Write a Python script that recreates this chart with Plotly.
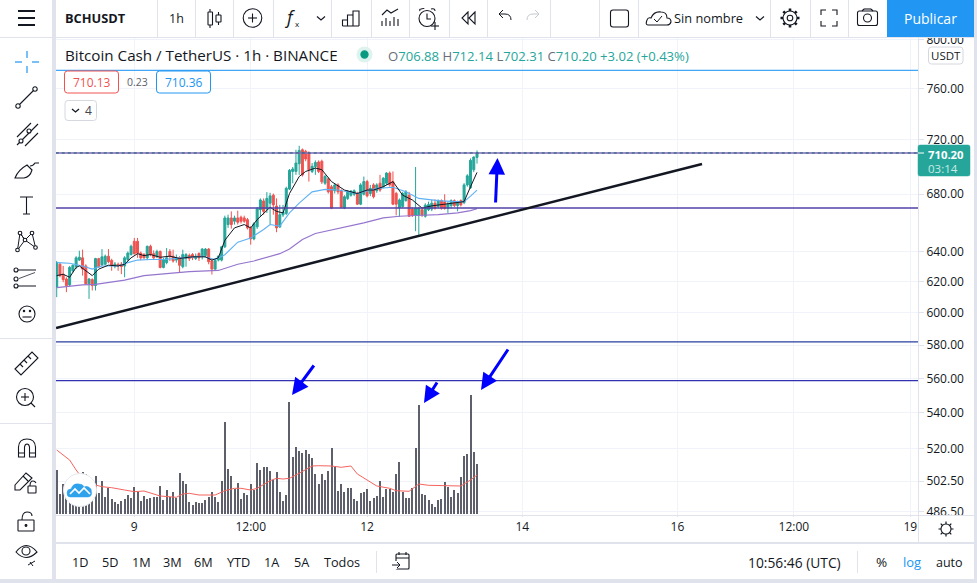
import math
import plotly.graph_objects as go

# Hourly BCH/USDT bars
opens = [616.6,631.6,625,621.9,618,627.3,630.1,634.4,635.9,630.5,
618.7,621.5,617.6,635.4,631.2,631.6,637,634.2,630.5,631.6,
631.6,630.5,634.8,638.1,647.1,647.1,639.1,638.1,635.9,643.7,
638.7,636.6,640.2,629.5,632.7,640.2,637,634.4,635.9,630,
635.4,637.5,638.1,635.5,638.8,636.6,637.4,641.8,633.8,628.4,
634.4,634.4,643.3,658.6,663.2,660.9,663.2,663.7,663.2,662,
656.3,648.7,657,669,675.2,669.4,673.6,679.3,671.6,656.9,
665.3,666.4,683.7,696.5,696.5,702.2,712.6,711.4,710.1,696.5,
700,703.5,704,687.9,691.1,685.4,682.5,686.7,682.5,670.1,
677,679.3,680,680.5,672.9,680,689.1,680.5,686.7,682.5,
687.9,685.4,687.9,695.3,689.1,680.5,670.3,671.3,675.4,679.3,
669.4,664.9,664.9,669,664.4,669,669.4,673.6,671.3,675.4,
674.7,670.1,671.9,675.4,671.9,675.4,674,686.7,684.7,697.8,706.88]
closes = [632.7,624.1,621.5,617.6,629.5,630.9,635.9,636.3,628.4,618.7,
621.9,617.6,635.4,630,636.6,637,633.3,631,631.8,630.5,
630.1,635.9,639.1,643.7,638.7,639.1,635.9,635.9,643.7,638.1,
635.9,640.2,629.5,634.8,635.9,637,633.8,635.9,630.9,638.1,
638.1,635.4,635.9,637,635.9,641.8,641.8,633.3,628.4,634.2,
637,643.3,663.2,663.2,658.6,663.2,660.2,660.9,660.9,656.3,
648.7,659.1,669.7,675.9,667.8,677,678.8,672.4,656.3,665.5,
667.1,684.2,697.3,698.3,702.7,712.1,694,705.7,697.8,700.3,
703.2,696.5,688.9,692.8,681.7,670.1,686.7,681.7,670.8,678.2,
681.7,682.2,682.5,672.9,686.7,689.1,678.8,684.2,678.2,686.7,
683,691.6,695.3,686.7,672.9,672.9,675.9,680.5,681.7,664.4,
664.9,670.1,670.1,665.3,672.2,672.6,673.6,670.1,675.4,670.1,
669.9,673.1,675.4,671.9,674,672.4,686.7,693.3,704.7,707.18,710.20]
highs = [633.8,632.7,630.5,623,630.5,631.6,637,640.7,641.4,631.6,
622.5,622.3,635.9,635.9,641.8,638.1,641.8,635.3,633.1,632.7,
633.1,637,640.2,644.8,649.4,649.4,640.2,639.1,644.1,644.8,
640.9,641.4,640.9,635.9,642.5,641.8,641.4,638.1,637,641.4,
639.1,638.8,639.1,638.8,639.6,642.5,642.5,642.5,634.8,635.3,
637.4,643.7,664.8,665.5,667.8,664.8,668.3,664.8,664.8,663.2,
657.5,660.2,670.8,677,677,681.5,681,680.5,677,672.4,
672.4,685.4,698.3,699.8,712.6,715.6,713.6,712.6,711.4,702.7,
704.7,704.7,705.2,694,692.1,686.7,687.9,687.9,683.5,679.3,
683,683,683.5,681.7,687.9,692.8,690.4,686.7,687.9,687.9,
694,692.3,696,696.5,696.5,681.7,677,681.7,683,681.7,
670.8,699.8,671,670.8,673.6,674.7,675.9,676.3,676.3,676.3,
680,674.7,676.3,676.3,675.4,676.3,688,694.5,706.2,707.7,712.14]
lows = [610.1,623,619.8,613.3,617,626.2,628.4,633.8,624.1,618,
609,614.4,614.4,629.2,630.3,631,632.3,627.3,628.9,627.3,
625.1,623,633.8,637.4,638.1,635.9,634.4,635.3,634.4,637,
634.8,635.7,628.9,628.9,631.6,633.8,632.7,632.7,625.8,628.9,
630,633.8,634.4,634.4,633.8,634.8,635.9,631.6,624.8,627.7,
633.5,633.5,642.5,656.3,655.8,658.6,658.6,659.3,659.8,655.2,
644.8,647.8,655.6,663.9,665.5,666.7,658.6,665.5,653.3,656.3,
663.9,665.3,683,687.9,694,694,692.8,704,689.1,695.3,
694,695.3,687.4,686.7,680.5,669.4,680.5,680,669.9,669.4,
675.9,678.2,678.6,672.4,672.2,679.1,677.7,678.6,677,681,
681.7,684.2,686.7,685.4,672.2,665,663.9,670.3,674.7,663.9,
663.9,654,651.5,663.9,663.4,668,668,669,669.9,669,
669,666.7,669.9,670.8,667.8,671.3,672.9,685.4,683.7,696,702.31]
volumes = [4400,2000,3000,3100,2400,1200,1800,3500,4200,4000,
3700,3100,3800,2100,3300,1700,2600,1500,1200,1000,
1300,1500,1900,1600,2700,2200,1300,1800,1500,1600,
1700,1700,2800,1400,2400,1700,2200,1600,4100,3300,
3000,1200,900,1200,1100,1100,1400,1700,2200,1700,
1200,3300,9200,4500,3800,2500,3100,1500,2100,1900,
3000,2400,5100,4400,4700,4700,4300,3400,4200,2200,
1300,1900,11200,5700,6700,6300,6100,6400,6000,5600,
4000,3000,4000,3400,4300,6600,4700,2300,3000,2200,
2600,2600,1500,1300,2100,2200,2500,1300,1600,1800,
3300,1700,2500,2500,2200,4000,5200,2200,1600,1600,
2600,6600,10900,2000,1900,1400,1000,700,1400,1500,
3200,2700,1700,2400,2100,3700,5800,6000,11900,6200,5000]
bar_index = list(range(len(closes)))

# Moving averages, read at the bends of each line
ma_fast_x = [0,2,4,6,7,9,11,13,16,19,21,23,25,27,29,32,35,38,42,46,48,50,52,55,58,60,62,66,68,70,72,75,77,80,82,85,89,93,96,98,101,104,107,110,113,116,120,126,128,130]
ma_fast_y = [624.1,625,623,629.5,630.5,627.3,624.1,628.4,631,630.5,631.6,635.9,638.7,637.4,638.1,636.3,637,635.5,636.6,636.6,634.4,635.9,647.8,656.3,658.6,656.3,662,670.7,667.8,666.7,680.5,692.8,696.5,699,697.8,689.1,683,680.5,683,683,685.4,689.1,679.3,675.9,670.1,671.7,673.1,674.7,685.4,695.8]
ma_mid_x = [0,4,8,11,14,19,22,25,29,33,39,45,49,52,56,60,64,66,69,72,75,79,83,87,93,99,104,108,112,118,123,126,128,130]
ma_mid_y = [632.7,632.3,630.5,628.4,630.5,630.5,632.7,634.4,634.8,634.8,635.9,637,634.8,638,646.5,649.4,655.2,658.6,657.5,666.7,673.6,681.7,683.5,683,680.5,684.2,685,681.7,677,675.4,674.7,674.7,678.6,683]
ma_slow_x = [0,8,12,21,27,34,41,50,56,61,69,72,76,80,87,95,101,106,111,118,124,128,130]
ma_slow_y = [616.2,618,618.4,621.1,624.1,625.2,626.7,627.5,631.6,633.8,638.7,641.8,648.3,652.4,655.6,659.8,663.2,664.4,664.9,665.5,666.7,668.3,669.7]
vol_ma_x = [0,2,4,6,8,10,12,14,17,21,24,27,29,32,37,39,41,44,49,52,55,57,60,62,66,68,70,72,75,79,81,85,88,91,93,99,103,105,109,112,115,120,125,128,130]
vol_ma_y = [6400,5900,5400,4400,3570,3330,2900,2730,2630,2400,2230,2300,2070,1800,1670,2000,2070,1900,1900,2330,2570,2570,2400,2570,3330,3570,3500,3570,4070,4800,4830,4800,4670,4800,4000,2800,2570,2330,2270,3000,2870,2830,2800,3400,3900]

# Drawn levels and the trend line
level_last = 710.20
level_blue = 774.8
level_mid = 670.2
level_low1 = 582.0
level_low2 = 558.7
trend_x = [-0.2, 199.6]
trend_y = [590.6, 702.0]

price_ticks = [800, 760, 720, 680, 640, 620, 600, 580, 560, 540, 520, 502.5, 486.5]
time_ticks = [24, 60, 96, 144, 192, 228, 264]
time_labels = ["9", "12:00", "12", "14", "16", "12:00", "19"]

FONT = "Open Sans"
INK = "#131722"
EDGE = "#e0e3eb"
GRID = "#f0f3fa"
UP = "#26a69a"
DOWN = "#ef5350"
BLUE = "#2196f3"

W, H = 977, 583
shapes = []
notes = []


def stroke(d, color=INK, w=1.1, fill=None):
    s = dict(type="path", path=d, xref="x3", yref="y3", layer="above", line=dict(color=color, width=w))
    if fill:
        s["fillcolor"] = fill
    shapes.append(s)


def seg(x0, y0, x1, y1, color=INK, w=1.1):
    shapes.append(dict(type="line", x0=x0, y0=y0, x1=x1, y1=y1, xref="x3", yref="y3", layer="above",
                       line=dict(color=color, width=w)))


def block(x0, y0, x1, y1, fill):
    shapes.append(dict(type="rect", x0=x0, y0=y0, x1=x1, y1=y1, xref="x3", yref="y3", layer="above",
                       fillcolor=fill, line=dict(width=0)))


def ring(cx, cy, r, color=INK, w=1.1, fill="rgba(0,0,0,0)"):
    shapes.append(dict(type="circle", x0=cx-r, y0=cy-r, x1=cx+r, y1=cy+r, xref="x3", yref="y3", layer="above",
                       line=dict(color=color, width=w), fillcolor=fill))


def rbox(x0, y0, x1, y1, r, color=INK, w=1.1, fill=None):
    d = (f"M{x0+r},{y0} L{x1-r},{y0} Q{x1},{y0} {x1},{y0+r} L{x1},{y1-r} Q{x1},{y1} {x1-r},{y1} "
         f"L{x0+r},{y1} Q{x0},{y1} {x0},{y1-r} L{x0},{y0+r} Q{x0},{y0} {x0+r},{y0} Z")
    stroke(d, color, w, fill)


def label(x, y, s, size=12, color=INK, anchor="left"):
    notes.append(dict(x=x, y=y, text=s, xref="x3", yref="y3", showarrow=False, xanchor=anchor, yanchor="middle",
                      font=dict(family=FONT, size=size, color=color), borderpad=0))


def blue_arrow(x0, y0, x1, y1):
    notes.append(dict(x=x1, y=y1, ax=x0, ay=y0, xref="x3", yref="y3", axref="x3", ayref="y3", text="",
                      showarrow=True, arrowhead=2, arrowsize=1.1, arrowwidth=3, arrowcolor="#0000ff"))


fig = go.Figure()
fig.add_trace(go.Bar(x=bar_index, y=volumes, yaxis="y2", width=0.62, marker=dict(color="#5d606b", line=dict(width=0))))
fig.add_trace(go.Scatter(x=vol_ma_x, y=vol_ma_y, yaxis="y2", mode="lines", line=dict(color="#f4645f", width=1)))
fig.add_trace(go.Candlestick(x=bar_index, open=opens, high=highs, low=lows, close=closes,
                             increasing=dict(line=dict(color=UP, width=1), fillcolor=UP),
                             decreasing=dict(line=dict(color=DOWN, width=1), fillcolor=DOWN),
                             whiskerwidth=0))
fig.add_trace(go.Scatter(x=ma_slow_x, y=ma_slow_y, mode="lines", line=dict(color="#9575cd", width=1.2)))
fig.add_trace(go.Scatter(x=ma_mid_x, y=ma_mid_y, mode="lines", line=dict(color="#5eb1f3", width=1.1)))
fig.add_trace(go.Scatter(x=ma_fast_x, y=ma_fast_y, mode="lines", line=dict(color=INK, width=1)))

x_end = [-0.3, 266.6]
for lvl, col, wid, dash in [(level_blue, "#42a5f5", 1.3, "solid"), (level_last, "#7e6bb8", 1.5, "solid"),
                            (level_last, "#1f5f7a", 1, "dot"), (level_mid, "#4f42a6", 1.4, "solid"),
                            (level_low1, "#2a3f9e", 1.2, "solid"), (level_low2, "#3232b0", 1.2, "solid")]:
    fig.add_trace(go.Scatter(x=x_end, y=[lvl, lvl], mode="lines", line=dict(color=col, width=wid, dash=dash)))
fig.add_trace(go.Scatter(x=trend_x, y=trend_y, mode="lines", line=dict(color=INK, width=2.6)))
fig.add_trace(go.Scatter(x=[0], y=[0], xaxis="x3", yaxis="y3", mode="markers", marker=dict(opacity=0), hoverinfo="skip"))

# Arrows drawn on the chart
blue_arrow(495.5, 204, 497.5, 158)
blue_arrow(315, 364, 292, 395)
blue_arrow(438, 381, 424, 403)
blue_arrow(509, 348, 481, 390)

# Window chrome
block(0, 0, W, 37, "#ffffff")
block(52, 0, 56, H, EDGE)
block(56, 37, W, 38, EDGE)
block(0, 37, 52, 38, EDGE)
block(974, 0, W, H, EDGE)
block(0, 579, W, H, EDGE)
block(56, 515, 974, 516, EDGE)
block(56, 542, 974, 544, EDGE)
block(918, 38, 919, 543, EDGE)
block(0, 338, 52, 339, EDGE)
block(0, 423, 52, 424, EDGE)
for sx in [157, 195, 233, 273, 331, 371, 409, 449, 487, 550, 599, 638, 770, 810, 848]:
    block(sx, 0, sx+1, 37, EDGE)
block(887, 0, 974, 37, BLUE)
block(376, 551, 377, 573, EDGE)
block(857, 551, 858, 573, EDGE)

# Top toolbar
for hy in [11, 18, 25]:
    seg(18, hy, 35, hy, w=2)
label(64, 18, "<b>BCHUSDT</b>", 12.8)
label(176, 18, "1h", 12.5, anchor="center")
seg(210, 9, 210, 28)
rbox(208, 12, 212.5, 25, 0.5, fill="#ffffff")
seg(218.5, 12, 218.5, 25)
rbox(216, 15, 221, 22, 0.5, fill="#ffffff")
ring(252.5, 18, 9.3)
seg(248, 18, 257, 18)
seg(252.5, 13.5, 252.5, 22.5)
label(289, 17, "<i>f</i>", 18, anchor="center")
label(297, 23, "x", 8, anchor="center")
stroke("M317,16.5 L321,20 L325,16.5")
stroke("M342.5,26 L342.5,20 L347.5,20 L347.5,26 M347.5,26 L347.5,15 L353,15 L353,26 M353,26 L353,11 L359,11 L359,26 M342.5,26 L359,26")
stroke("M382,15 L387,10 L391,13 L398,9")
for tx, ty in [(382, 21), (386, 18), (390, 21), (394, 17), (398, 19)]:
    seg(tx, ty, tx, 26)
ring(427, 18.5, 8)
stroke("M427,13.5 L427,19 L431,19")
stroke("M420,11 Q419,9 421,9 Q424,8 424,9 M431,9 Q435,8 435,11")
seg(431, 26, 439, 26)
seg(435, 22, 435, 30)
stroke("M468,12 L462,18 L468,24 Z M475,12 L469,18 L475,24 Z")
stroke("M499,14 L505,14 Q511,14 511,20 M499,14 L503,10 M499,14 L503,18", w=1)
stroke("M539,14 L533,14 Q527,14 527,20 M539,14 L535,10 M539,14 L535,18", color="#c5c8d0", w=1)
rbox(610.5, 10, 628.5, 27, 2.5)
stroke("M648,25 Q645,25 647,20 Q648,17 651,18 Q654,11 661,12 Q667,12 667,18 Q671,18 671,22 Q670,25 667,25 Z")
stroke("M654,19 L657,22 L662,16", w=1)
label(672.5, 18, "Sin nombre", 12.8)
stroke("M756,16.5 L760,20 L764,16.5")
# gear teeth
teeth = []
for k in range(8):
    a = k * math.pi / 4
    teeth.append(f"M{790+6.5*math.cos(a):.1f},{18+6.5*math.sin(a):.1f} L{790+9.5*math.cos(a):.1f},{18+9.5*math.sin(a):.1f}")
stroke(" ".join(teeth), w=2.6)
ring(790, 18, 7, fill="#ffffff")
ring(790, 18, 2.8)
stroke("M821,15 L821,10 L826,10 M832,10 L837,10 L837,15 M837,21 L837,26 L832,26 M826,26 L821,26 L821,21")
rbox(857.5, 11, 877.5, 25.5, 2)
ring(867.5, 18, 4)
seg(862, 11, 864, 9)
seg(864, 9, 871, 9)
seg(871, 9, 873, 11)
label(930.5, 18, "Publicar", 14, "#ffffff", "center")

# Left toolbar
for a, b, c, d in [(27, 51, 27, 58), (27, 66, 27, 73), (15, 62, 22, 62), (32, 62, 39, 62)]:
    seg(a, b, c, d, BLUE, 1.2)
seg(18, 106, 35, 89)
ring(18, 106, 2.2, fill="#ffffff")
ring(35, 89, 2.2, fill="#ffffff")
stroke("M17,137 L31,123 M17,145 L38,124 M25,146 L38,133")
ring(21, 141, 2, fill="#ffffff")
ring(29, 131, 2, fill="#ffffff")
stroke("M15,178 Q18,170 27,165 L32,170 Q30,177 24,178 Z M30,166 Q33,166 35,163 L39,163", w=1.1)
stroke("M20,197 L33,197 M26.5,197 L26.5,214 M23,214 L30,214")
stroke("M17.5,250 L20,233 L25,240 L32,233 L35.5,247.5 L25,240 L17.5,250 M20,233 L25,240 M25,240 L32,233", w=1)
for px_, py_ in [(17.5, 250), (20, 233), (25, 240), (32, 233), (35.5, 247.5)]:
    ring(px_, py_, 1.8, fill="#ffffff")
stroke("M18,270 L36,270 M18,286 L36,286", w=1.1)
stroke("M19,278.5 L35,272.5", color="#50535e", w=1)
for py_ in [270, 279, 286]:
    ring(16, py_, 2, fill="#ffffff")
ring(27, 314, 8)
seg(22.5, 317, 31.5, 317, w=1.1)
ring(24, 311, 0.7, fill=INK)
ring(30, 311, 0.7, fill=INK)
stroke("M15,369 L32,352 L38,358 L21,375 Z M20,364 L23,367 M24,360 L27,363 M28,356 L31,359", w=1.1)
ring(25, 397, 8.5)
seg(31, 403, 35, 407)
seg(21, 397, 29, 397)
seg(25, 393, 25, 401)
stroke("M18.5,457 L18.5,447 Q19,439 27,439 Q35,439 35.5,447 L35.5,457 L29.5,457 L29.5,447 Q29,444 27,444 Q25,444 24.5,447 L24.5,457 Z M18.5,453 L24.5,453 M29.5,453 L35.5,453")
stroke("M15,485 L26,473 L32,478 L20,490 L15,490 Z M23,476 L28,481")
rbox(28, 486, 36, 493, 0.5)
stroke("M30,486 Q30,481 33,481 Q35,481 36,483")
rbox(18, 520, 34, 531, 0.5)
stroke("M22,520 Q22,512 27,512 Q32,512 32,516")
ring(26, 525.5, 0.9, fill=INK)
stroke("M16,552 Q26,539 37,552 Q26,563 16,552 Z")
ring(26, 551, 4)
stroke("M28,565 L35,561 M30,562 L33,566", w=1)

# Legend row
label(64, 55, "Bitcoin Cash / TetherUS · 1h · BINANCE", 15.2)
ring(364.5, 54.5, 8, color="rgba(0,0,0,0)", fill="#def2ee")
ring(364.5, 54.5, 3.6, color="#089981", fill="#089981")
t = lambda s: f'<span style="color:{UP}">{s}</span>'
g = lambda s: f'<span style="color:#6a6d78">{s}</span>'
label(387, 55.5, g("O") + t("706.88") + " " + g("H") + t("712.14") + " " + g("L") + t("702.31") + " " + g("C") + t("710.20") + " " + t("+3.02 (+0.43%)"), 13.1)
rbox(64.5, 71, 118.5, 93, 3, DOWN, 1, "#ffffff")
label(91.5, 82, "710.13", 12, DOWN, "center")
label(137, 82, "0.23", 10.5, "#5d606b", "center")
rbox(156.5, 71, 210.5, 93, 3, BLUE, 1, "#ffffff")
label(183.5, 82, "710.36", 12, BLUE, "center")
rbox(65, 100.5, 96.5, 120.5, 3, "#d6d8e0", 1, "#ffffff")
stroke("M72,109 L75.5,112 L79,109", w=1.3)
label(88, 110.5, "4", 12, "#42454f", "center")

# Price scale furniture
rbox(928.5, 47, 963, 64, 3, "#d6d8e0", 1, "#ffffff")
label(945.7, 55, "USDT", 11.5, INK, "center")
rbox(918, 145, 970, 176, 2, UP, 0.5, UP)
seg(918, 153, 924, 153, "#ffffff", 1)
label(927, 154.5, "<b>710.20</b>", 11.3, "#ffffff")
label(927, 168.5, "03:14", 11.5, "#c8ebe6")

# Watermark
ring(80, 490, 16.5, color="#e6e7ec", w=1, fill="#ffffff")
stroke("M70,497 Q67,497 67,493 Q67,489 71,489 Q73,483 79,484 Q83,484 84,487 Q88,485 91,489 Q93,497 88,497 Z", color="#2fa2ec", w=0.5, fill="#2fa2ec")
stroke("M70,494 L75,489 L79,493 L84,488 L90,494", color="#ffffff", w=1.6)

# Gear beside the time scale
teeth = []
for k in range(8):
    a = k * math.pi / 4
    teeth.append(f"M{946+5*math.cos(a):.1f},{529+5*math.sin(a):.1f} L{946+7.5*math.cos(a):.1f},{529+7.5*math.sin(a):.1f}")
stroke(" ".join(teeth), w=1.2)
ring(946, 529, 5, fill="#ffffff")

# Bottom bar
for lx, s in [(80, "1D"), (110, "5D"), (141, "1M"), (172, "3M"), (203, "6M"), (238, "YTD"), (272, "1A"), (302, "5A"), (342, "Todos")]:
    label(lx, 562, s, 12.7, INK, "center")
rbox(396, 554, 409, 569, 1)
stroke("M396,558 L409,558 M399,552 L399,555 M406,552 L406,555")
block(392, 561, 397, 569, "#ffffff")
stroke("M392,565 L400,565 M397,562 L400,565 L397,568", w=1)
label(794.5, 562, "10:56:46 (UTC)", 13.8, INK, "center")
label(881, 562, "%", 13.5, INK, "center")
label(912, 562, "log", 13, BLUE, "center")
label(949, 562, "auto", 12.5, INK, "center")

fig.update_layout(
    width=W, height=H, margin=dict(l=0, r=0, t=0, b=0), autosize=False,
    paper_bgcolor="#ffffff", plot_bgcolor="rgba(0,0,0,0)",
    showlegend=False, hovermode=False, bargap=0, boxgap=0.12,
    font=dict(family=FONT, size=12, color=INK),
    shapes=shapes, annotations=notes,
    xaxis=dict(domain=[56/W, 918/W], range=[-0.22, 266.4], anchor="y", rangeslider=dict(visible=False), automargin=False,
               tickmode="array", tickvals=time_ticks, ticktext=time_labels, ticks="outside", ticklen=1,
               tickcolor=EDGE, showgrid=True, gridcolor=GRID, gridwidth=1, zeroline=False, showline=False,
               tickfont=dict(family=FONT, size=12, color=INK)),
    yaxis=dict(domain=[1-515/H, 1-38/H], type="log", range=[2.68570, 2.90400], side="right", anchor="x", automargin=False,
               tickmode="array", tickvals=price_ticks, ticktext=[f"{v:.2f}" for v in price_ticks], ticks="outside",
               ticklen=5, tickcolor=EDGE, showgrid=True, gridcolor=GRID, gridwidth=1, zeroline=False,
               showline=False, tickfont=dict(family=FONT, size=12, color=INK)),
    yaxis2=dict(domain=[1-515/H, 1-38/H], range=[-100, 47600], overlaying="y", anchor="x", visible=False, automargin=False),
    xaxis3=dict(domain=[0, 1], range=[0, W], anchor="y3", visible=False, automargin=False),
    yaxis3=dict(domain=[0, 1], range=[H, 0], anchor="x3", visible=False, automargin=False),
)

fig.write_html("out.html", config={"displayModeBar": False},
               post_script="document.body.style.margin='0';document.body.style.overflow='hidden';")
